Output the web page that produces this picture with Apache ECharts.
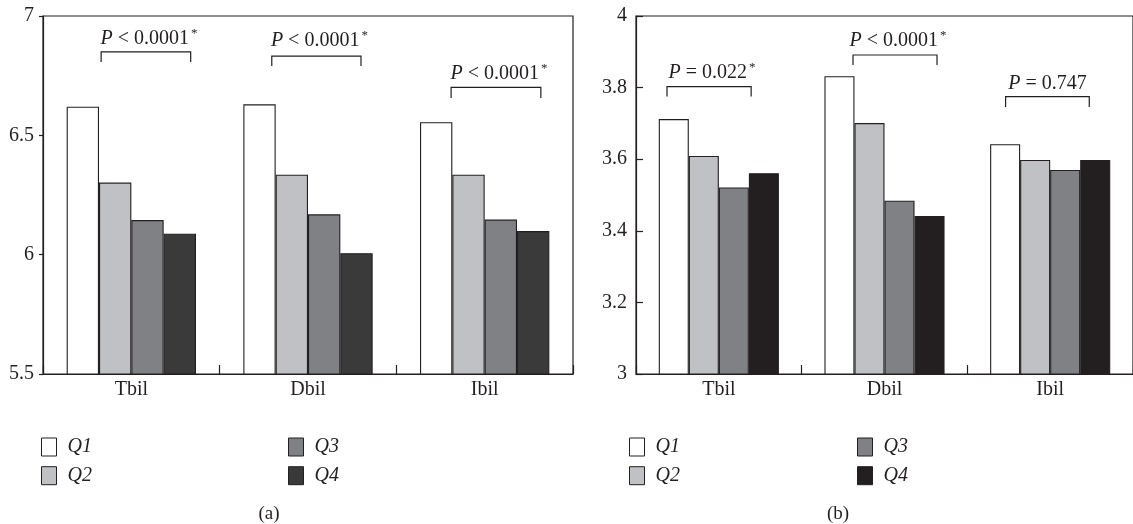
<!DOCTYPE html>
<html><head><meta charset="utf-8">
<script src="https://cdn.jsdelivr.net/npm/echarts@6/dist/echarts.min.js"></script>
<style>html,body{margin:0;padding:0;background:#fff;}#c{width:1133px;height:524px;}</style>
</head><body><div id="c"></div>
<script>
const categories = ['Tbil', 'Dbil', 'Ibil'];
const seriesNames = ['Q1', 'Q2', 'Q3', 'Q4'];
// Panel (a)
const a_Q1 = [6.62, 6.63, 6.555];
const a_Q2 = [6.302, 6.335, 6.335];
const a_Q3 = [6.145, 6.169, 6.147];
const a_Q4 = [6.088, 6.006, 6.099];
const a_ticks = [5.5, 6, 6.5, 7];
// Panel (b)
const b_Q1 = [3.712, 3.832, 3.642];
const b_Q2 = [3.609, 3.701, 3.598];
const b_Q3 = [3.521, 3.484, 3.570];
const b_Q4 = [3.561, 3.441, 3.598];
const b_ticks = [3, 3.2, 3.4, 3.6, 3.8, 4];
// P-value annotations: [category index, text value, bracket top, bracket leg end, p text, significant]
const a_pvals = [
  [0, 6.906, 6.850, 6.807, '< 0.0001', 1],
  [1, 6.896, 6.832, 6.791, '< 0.0001', 1],
  [2, 6.758, 6.701, 6.656, '< 0.0001', 1]
];
const b_pvals = [
  [0, 3.842, 3.803, 3.775, '= 0.022', 1],
  [1, 3.931, 3.891, 3.863, '< 0.0001', 1],
  [2, 3.810, 3.775, 3.746, '= 0.747', 0]
];
// bracket horizontal extents as fraction of category band (style)
const a_span = [[-0.171, 0.336], [-0.205, 0.300], [-0.19, 0.318]];
const b_span = [[-0.313, 0.195], [-0.19, 0.317], [-0.269, 0.236]];

const INK = '#231f20';
const FONT = '"Liberation Serif", "DejaVu Serif", serif';
const colorsA = ['#ffffff', '#c0c1c4', '#808185', '#3a3a3a'];
const colorsB = ['#ffffff', '#c0c1c4', '#808185', '#231f20'];

const chart = echarts.init(document.getElementById('c'), null, {renderer: 'canvas'});

function bracketSeries(data, span, xi) {
  return {
    type: 'custom', xAxisIndex: xi, yAxisIndex: xi, clip: false, silent: true,
    data: data,
    renderItem: function (params, api) {
      const ci = api.value(0);
      const c = api.coord([ci, api.value(2)]);
      const band = api.size([1, 0])[0];
      const yTop = c[1];
      const yLeg = api.coord([ci, api.value(3)])[1];
      const yText = api.coord([ci, api.value(1)])[1];
      const sp = span[params.dataIndex];
      const x1 = c[0] + sp[0] * band, x2 = c[0] + sp[1] * band;
      const d = data[params.dataIndex];
      const txt = '{p|P} ' + d[4] + (d[5] ? '{s|*}' : '');
      return {
        type: 'group',
        children: [
          {type: 'polyline', shape: {points: [[x1, yLeg], [x1, yTop], [x2, yTop], [x2, yLeg]]},
           style: {stroke: INK, lineWidth: 1.2, fill: null}},
          {type: 'text', x: (x1 + x2) / 2 + (d[5] ? 3 : 0), y: yText,
           style: {text: txt, align: 'center', verticalAlign: 'middle',
             font: '20px ' + FONT, fill: INK,
             rich: {p: {fontStyle: 'italic', fontSize: 20, fontFamily: FONT, fill: INK},
                    s: {fontSize: 13, fontFamily: FONT, fill: INK, verticalAlign: 'top', padding: [0, 0, 10, 2]}}}}
        ]
      };
    }
  };
}

function bars(vals, colors, xi, gap) {
  return vals.map((v, i) => ({
    name: seriesNames[i], type: 'bar', xAxisIndex: xi, yAxisIndex: xi,
    data: v, barGap: '0%', barCategoryGap: gap,
    itemStyle: {color: colors[i], borderColor: INK, borderWidth: 1.1},
    emphasis: {disabled: true}
  }));
}

function legend(names, colors, left, top) {
  return {
    orient: 'vertical', left: left, top: top, itemWidth: 15, itemHeight: 18, itemGap: 8.7,
    padding: 0, selectedMode: false,
    data: names.map(n => ({name: n, icon: 'rect',
      itemStyle: {color: colors[seriesNames.indexOf(n)], borderColor: INK, borderWidth: 1}})),
    textStyle: {fontFamily: FONT, fontStyle: 'italic', fontSize: 20, lineHeight: 18, color: INK, padding: [0, 0, 0, 6]}
  };
}

const xAx = (gi) => ({
  type: 'category', gridIndex: gi, data: categories,
  axisLine: {lineStyle: {color: INK, width: 1.2}},
  axisTick: {show: true, inside: true, length: 9, lineStyle: {color: INK, width: 1.2}},
  axisLabel: {fontFamily: FONT, fontSize: 20, color: INK, margin: 6}
});
const yAx = (gi, ticks, inside, len) => ({
  type: 'value', gridIndex: gi, min: ticks[0], max: ticks[ticks.length - 1],
  interval: +(ticks[1] - ticks[0]).toFixed(4),
  axisLine: {show: true, lineStyle: {color: INK, width: 1.2}},
  axisTick: {show: true, inside: inside, length: len, lineStyle: {color: INK, width: 1.2}},
  splitLine: {show: false},
  axisLabel: {fontFamily: FONT, fontSize: 20, color: INK, margin: 9,
    formatter: v => String(+v.toFixed(2))}
});

chart.setOption({
  animation: false,
  grid: [
    {left: 43, top: 16, width: 530, height: 358, show: true, borderColor: INK, borderWidth: 1.2, backgroundColor: 'transparent'},
    {left: 636, top: 16, width: 502, height: 358, show: true, borderColor: INK, borderWidth: 1.2, backgroundColor: 'transparent'}
  ],
  xAxis: [xAx(0), xAx(1)],
  yAxis: [yAx(0, a_ticks, false, 4), yAx(1, b_ticks, true, 7)],
  legend: [
    legend(['Q1', 'Q2'], colorsA, 41, 437),
    legend(['Q3', 'Q4'], colorsA, 288, 437),
    legend(['Q1', 'Q2'], colorsB, 629, 437),
    legend(['Q3', 'Q4'], colorsB, 857, 437)
  ],
  graphic: [
    {type: 'text', x: 269, y: 514, style: {text: '(a)', align: 'center', verticalAlign: 'middle', font: '19px ' + FONT, fill: INK}},
    {type: 'text', x: 838, y: 514, style: {text: '(b)', align: 'center', verticalAlign: 'middle', font: '19px ' + FONT, fill: INK}}
  ],
  series: [
    ...bars([a_Q1, a_Q2, a_Q3, a_Q4], colorsA, 0, '26.8%'),
    ...bars([b_Q1, b_Q2, b_Q3, b_Q4], colorsB, 1, '27.5%'),
    bracketSeries(a_pvals, a_span, 0),
    bracketSeries(b_pvals, b_span, 1)
  ]
});
</script></body></html>
